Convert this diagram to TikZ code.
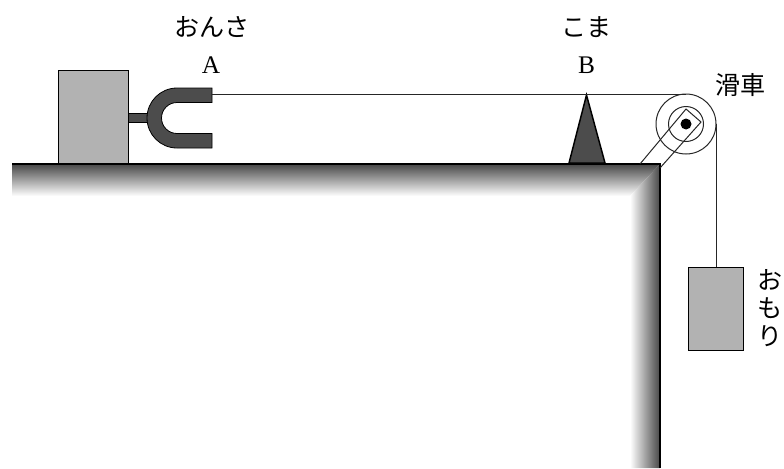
\documentclass[tikz,border=0pt]{standalone}
\usepackage{fontspec}
\setmainfont{Liberation Serif}
\newfontfamily\jp{Noto Sans CJK JP}
\definecolor{blockgray}{gray}{0.70}
\definecolor{darkgray2}{gray}{0.30}
\definecolor{bandgray}{gray}{0.28}
\tikzset{
  ink/.style={draw=black,line width=1.1pt},
  thin ink/.style={draw=black!85,line width=0.75pt},
  lab/.style={inner sep=0pt,font=\jp\fontsize{18.8pt}{20pt}\selectfont},
  letter/.style={inner sep=0pt,font=\fontsize{19pt}{20pt}\selectfont}
}
\begin{document}
\begin{tikzpicture}[x=0.75pt,y=-0.75pt]
\useasboundingbox (0,0) rectangle (784,468);
% table
\begin{scope}
\clip (12,164) -- (660,164) -- (630,196) -- (12,196) -- cycle;
\shade[top color=bandgray,bottom color=white] (12,164) rectangle (660,196);
\end{scope}
\begin{scope}
\clip (660,164) -- (660,468) -- (630,468) -- (630,196) -- cycle;
\shade[left color=white,right color=bandgray] (630,164) rectangle (660,468);
\end{scope}
\draw[ink,line width=1.5pt] (12,164) -- (660,164) -- (660,468);
% block and fork
\node[ink,fill=blockgray,minimum width=52.5pt,minimum height=69.5pt,inner sep=0pt,anchor=north west] (block) at (58,70) {};
\fill[darkgray2,draw=black,line width=0.6pt] (128,113) rectangle (150,122);
\draw[draw=black,line width=0.6pt,fill=darkgray2] (212,88) -- (177,88) arc[start angle=270,end angle=90,radius=30] -- (212,148) -- (212,133.5) -- (177,133.5) arc[start angle=90,end angle=270,radius=15.5] -- (212,102.5) -- cycle;
\coordinate (forkend) at (212,94);
% bridge
\draw[ink,fill=darkgray2] (586.5,95) -- (605,163) -- (569,163) -- cycle;
% pulley
\coordinate (pc) at (686,124);
\coordinate (ptop) at (686,94);
\coordinate (pright) at (716,124);
\draw[thin ink] (pc) circle[radius=30];
\draw[thin ink] (pc) circle[radius=17.5];
\draw[thin ink] (640,164) -- (686,109) -- (701,122) -- (660,168);
\fill[black] (pc) circle[radius=5.5];
% weight and string
\node[ink,fill=blockgray,minimum width=41pt,minimum height=62pt,inner sep=0pt,anchor=north west] (weight) at (688,267) {};
\draw[thin ink] (forkend) -- (ptop);
\draw[thin ink] (pright) -- (weight.north -| pright);
% labels
\node[lab] (l1) at (212,27) {おんさ};
\node[lab] (l2) at (586.5,27) {こま};
\node[lab] (l3) at (740.5,85) {滑車};
\node[letter] (a) at (211,65) {A};
\node[letter] (b) at (586.5,65) {B};
\node[lab,align=center] (l4) at (770,308) {お\\[1pt]も\\[1pt]り};
\end{tikzpicture}
\end{document}
